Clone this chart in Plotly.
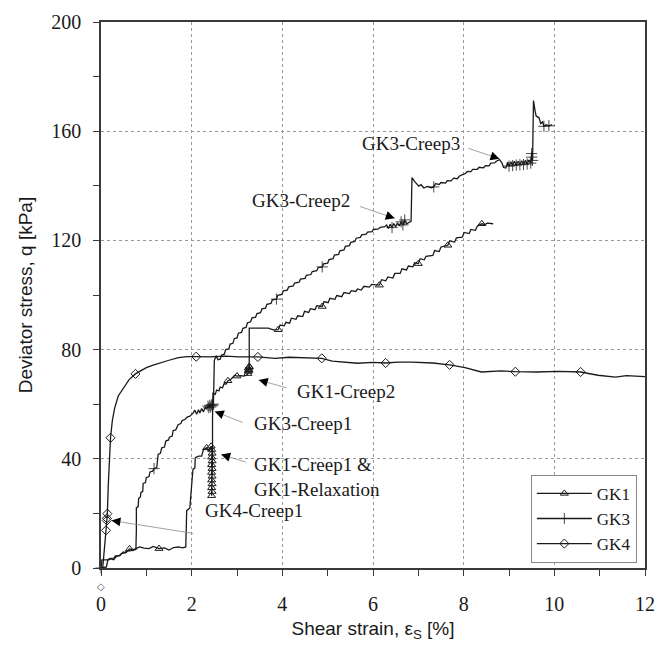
import math
import plotly.graph_objects as go

# ---- measured series: rows of [shear strain %, deviator stress kPa, marker flag] ----
GK1_points = [
    [0.00, 0.0, 0], [0.12, 0.4, 0], [0.15, 2.9, 0], [0.22, 3.3, 0], [0.28, 3.0, 0],
    [0.34, 4.3, 0], [0.42, 4.6, 0], [0.49, 5.9, 0], [0.55, 5.6, 0], [0.63, 7.0, 1],
    [0.72, 6.7, 0], [0.85, 7.7, 0], [0.95, 7.3, 0], [1.06, 7.1, 0], [1.15, 7.9, 0],
    [1.28, 7.1, 1], [1.40, 7.4, 0], [1.50, 6.6, 0], [1.60, 7.5, 0], [1.71, 7.7, 0],
    [1.80, 7.4, 0], [1.87, 7.7, 0], [1.88, 14.0, 0], [1.89, 21.0, 0], [1.96, 22.0, 0],
    [1.98, 28.0, 0], [2.01, 32.5, 0], [2.03, 36.2, 0], [2.07, 36.6, 0], [2.08, 40.4, 0],
    [2.15, 41.0, 0], [2.22, 41.0, 0], [2.26, 43.4, 0], [2.33, 44.0, 1], [2.38, 42.8, 0],
    [2.43, 44.6, 1],
    # creep 1 and relaxation
    [2.44, 43.4, 1], [2.45, 42.0, 1], [2.44, 40.6, 1], [2.45, 39.2, 1], [2.44, 37.8, 1],
    [2.45, 36.4, 1], [2.44, 35.0, 1], [2.45, 33.6, 1], [2.44, 32.2, 1], [2.45, 30.8, 1],
    [2.44, 29.4, 1], [2.45, 28.0, 1], [2.44, 26.5, 1],
    [2.46, 40.0, 0], [2.46, 55.0, 0], [2.47, 64.0, 0], [2.52, 63.6, 0], [2.55, 65.2, 0],
    [2.60, 64.9, 0], [2.63, 66.3, 0], [2.68, 66.0, 0], [2.72, 67.6, 0], [2.76, 67.3, 0],
    [2.80, 68.6, 1], [2.85, 68.9, 0], [2.90, 69.8, 0], [2.95, 70.6, 0], [3.00, 70.3, 1],
    [3.08, 70.5, 0], [3.15, 70.3, 0], [3.21, 70.6, 0],
    # creep 2
    [3.24, 71.2, 1], [3.25, 72.0, 1], [3.26, 72.6, 1], [3.25, 73.2, 1], [3.27, 73.6, 1],
    [3.26, 72.4, 1], [3.27, 73.8, 1],
    [3.27, 80.0, 0], [3.27, 87.9, 0], [3.45, 87.9, 0], [3.69, 87.9, 0], [3.80, 87.2, 0],
    [3.91, 87.3, 1], [3.95, 89.0, 0], [4.04, 88.7, 0], [4.08, 90.0, 0], [4.16, 89.7, 0],
    [4.20, 91.5, 0], [4.30, 91.1, 0], [4.34, 92.4, 0], [4.45, 92.1, 0], [4.49, 94.0, 0],
    [4.58, 93.6, 0], [4.62, 95.0, 0], [4.72, 94.6, 0], [4.76, 96.1, 0], [4.88, 95.8, 1],
    [4.92, 97.6, 0], [5.01, 97.2, 0], [5.05, 98.8, 0], [5.16, 98.4, 0], [5.20, 99.8, 0],
    [5.31, 99.4, 0], [5.36, 100.9, 0], [5.48, 100.5, 0], [5.52, 101.6, 0], [5.62, 101.3, 0],
    [5.66, 102.2, 0], [5.74, 101.8, 0], [5.80, 103.2, 0], [5.92, 102.9, 0], [5.97, 103.9, 0],
    [6.14, 103.6, 1], [6.19, 105.6, 0], [6.28, 105.2, 0], [6.33, 106.6, 0], [6.44, 106.2, 0],
    [6.48, 107.9, 0], [6.60, 107.9, 0], [6.64, 109.6, 0], [6.74, 109.2, 0], [6.78, 110.6, 0],
    [6.88, 110.3, 0], [6.92, 111.8, 0], [7.00, 111.5, 1], [7.04, 113.3, 0], [7.13, 112.9, 0],
    [7.17, 114.2, 0], [7.32, 114.5, 0], [7.36, 116.3, 0], [7.46, 115.9, 0], [7.50, 117.6, 0],
    [7.65, 118.2, 1], [7.69, 119.8, 0], [7.80, 119.4, 0], [7.84, 120.9, 0], [7.97, 121.2, 0],
    [8.01, 122.9, 0], [8.12, 122.5, 0], [8.16, 124.0, 0], [8.26, 123.7, 0], [8.30, 125.2, 0],
    [8.40, 126.1, 1], [8.47, 125.8, 0], [8.52, 126.3, 0], [8.65, 126.1, 0],
]

GK3_points = [
    [0.00, 0.0, 1], [0.02, 3.0, 0], [0.15, 3.0, 0], [0.20, 3.5, 0], [0.28, 3.6, 0],
    [0.32, 4.4, 0], [0.40, 4.5, 0], [0.45, 5.3, 0], [0.52, 5.5, 0], [0.57, 6.2, 0],
    [0.65, 6.4, 0], [0.72, 6.7, 0], [0.77, 6.8, 0], [0.78, 14.0, 0], [0.78, 22.0, 0],
    [0.82, 22.5, 0], [0.83, 25.5, 0], [0.87, 26.0, 0], [0.88, 27.7, 0], [0.92, 28.0, 0],
    [0.93, 31.0, 0], [0.98, 31.3, 0], [1.00, 33.1, 0], [1.06, 33.5, 0], [1.08, 35.2, 0],
    [1.14, 35.5, 0], [1.17, 36.4, 1], [1.23, 36.8, 0], [1.26, 41.6, 0], [1.31, 42.0, 0],
    [1.34, 44.0, 0], [1.40, 44.3, 0], [1.43, 46.5, 0], [1.49, 46.9, 0], [1.51, 47.9, 0],
    [1.57, 48.3, 0], [1.59, 50.3, 0], [1.65, 50.6, 0], [1.70, 52.5, 0], [1.76, 52.9, 0],
    [1.79, 54.0, 0], [1.85, 54.4, 0], [1.90, 55.3, 0], [1.96, 55.6, 0], [2.03, 56.7, 0],
    [2.07, 57.8, 0], [2.11, 56.3, 0], [2.15, 58.0, 0], [2.18, 56.8, 0], [2.22, 58.4, 0],
    [2.26, 57.2, 0], [2.30, 58.8, 0], [2.33, 58.3, 0],
    # creep 1
    [2.36, 59.3, 1], [2.38, 58.7, 1], [2.40, 59.6, 1], [2.42, 59.0, 1], [2.44, 59.8, 1],
    [2.46, 59.4, 1], [2.48, 60.0, 1],
    [2.49, 68.0, 0], [2.50, 76.0, 0], [2.54, 77.8, 0], [2.58, 76.3, 0], [2.63, 76.5, 0],
    [2.66, 78.0, 0], [2.72, 78.3, 0], [2.75, 80.0, 0], [2.82, 80.3, 0], [2.85, 82.0, 0],
    [2.91, 82.3, 0], [2.94, 84.0, 0], [3.00, 84.3, 0], [3.03, 86.0, 0], [3.10, 86.3, 0],
    [3.13, 87.8, 0], [3.20, 88.1, 0], [3.23, 89.8, 0], [3.30, 90.2, 0], [3.33, 91.6, 0],
    [3.41, 91.9, 0], [3.44, 93.2, 0], [3.52, 93.5, 0], [3.55, 94.9, 0], [3.63, 95.2, 0],
    [3.66, 96.6, 0], [3.75, 96.9, 0], [3.78, 98.2, 0], [3.87, 98.5, 1], [3.90, 99.9, 0],
    [3.99, 100.2, 0], [4.02, 101.5, 0], [4.11, 101.8, 0], [4.14, 103.0, 0], [4.24, 103.3, 0],
    [4.27, 104.4, 0], [4.37, 104.7, 0], [4.40, 105.8, 0], [4.50, 106.1, 0], [4.53, 107.2, 0],
    [4.63, 107.5, 0], [4.66, 108.6, 0], [4.76, 108.9, 0], [4.79, 110.0, 0], [4.88, 110.3, 1],
    [4.91, 111.4, 0], [5.00, 111.7, 0], [5.03, 113.0, 0], [5.12, 113.3, 0], [5.15, 114.6, 0],
    [5.24, 114.9, 0], [5.27, 116.2, 0], [5.36, 116.5, 0], [5.39, 117.8, 0], [5.48, 118.1, 0],
    [5.51, 119.3, 0], [5.60, 119.6, 0], [5.63, 120.8, 0], [5.72, 121.1, 0], [5.75, 122.0, 0],
    [5.85, 122.3, 0], [5.88, 123.0, 0], [5.98, 123.2, 0], [6.01, 124.0, 0], [6.12, 124.2, 0],
    [6.16, 124.8, 0], [6.26, 125.0, 0],
    # creep 2
    [6.30, 125.6, 0], [6.34, 124.4, 0], [6.38, 125.9, 0], [6.42, 124.7, 1], [6.46, 126.2, 0],
    [6.50, 125.0, 0], [6.54, 126.4, 0], [6.58, 125.3, 0], [6.62, 126.8, 1], [6.66, 125.7, 1],
    [6.70, 127.5, 1], [6.74, 126.1, 0], [6.80, 126.6, 0], [6.84, 127.0, 0],
    [6.85, 135.0, 0], [6.86, 143.0, 0], [6.92, 141.5, 0], [7.01, 139.9, 0], [7.06, 140.4, 0],
    [7.12, 139.2, 0], [7.20, 139.8, 0], [7.28, 139.3, 0], [7.34, 139.6, 1], [7.38, 140.8, 0],
    [7.46, 140.5, 0], [7.50, 141.2, 0], [7.60, 141.0, 0], [7.64, 141.9, 0], [7.72, 141.8, 0],
    [7.78, 142.8, 0], [7.86, 142.6, 0], [7.90, 143.5, 0], [7.99, 144.2, 0], [8.04, 144.5, 0],
    [8.08, 145.3, 0], [8.16, 145.2, 0], [8.20, 146.0, 0], [8.30, 146.0, 0], [8.34, 146.8, 0],
    [8.44, 146.6, 0], [8.48, 147.4, 0], [8.56, 147.3, 0], [8.60, 148.3, 0], [8.68, 148.4, 0],
    [8.72, 149.0, 0], [8.79, 149.6, 0],
    # creep 3
    [8.84, 148.5, 0], [8.88, 146.7, 0], [8.93, 146.5, 0], [8.97, 148.6, 0], [9.00, 147.2, 1],
    [9.04, 148.8, 0], [9.08, 147.4, 1], [9.12, 149.0, 0], [9.16, 147.6, 1], [9.20, 149.0, 0],
    [9.24, 147.7, 1], [9.28, 149.2, 0], [9.32, 147.8, 1], [9.36, 149.3, 0], [9.40, 148.0, 1],
    [9.44, 149.4, 0], [9.48, 148.3, 1], [9.50, 150.5, 1], [9.50, 151.8, 1], [9.52, 149.3, 1],
    [9.53, 160.0, 0], [9.54, 171.2, 0], [9.58, 167.0, 0], [9.60, 165.5, 0], [9.66, 165.0, 0],
    [9.70, 162.8, 0], [9.74, 163.4, 0], [9.77, 161.8, 1], [9.82, 162.4, 0], [9.88, 162.0, 1],
    [9.95, 162.3, 0],
]

GK4_points = [
    [0.00, -6.9, 1], [0.03, 0.0, 0], [0.08, 8.0, 0], [0.11, 13.8, 1], [0.13, 17.4, 1],
    [0.13, 18.2, 1], [0.14, 19.9, 1], [0.16, 30.0, 0], [0.19, 42.0, 0], [0.21, 47.7, 1],
    [0.25, 54.0, 0], [0.30, 58.5, 0], [0.38, 63.0, 0], [0.52, 66.8, 0], [0.62, 69.0, 0],
    [0.76, 71.1, 1], [0.88, 72.4, 0], [1.00, 73.4, 0], [1.15, 74.3, 0], [1.31, 75.0, 0],
    [1.50, 76.1, 0], [1.71, 77.1, 0], [1.90, 77.4, 0], [2.10, 77.4, 1], [2.40, 77.3, 0],
    [2.74, 77.6, 0], [3.05, 77.3, 0], [3.46, 77.3, 1], [3.84, 76.8, 0], [4.15, 77.2, 0],
    [4.47, 77.1, 0], [4.87, 76.8, 1], [5.10, 75.8, 0], [5.40, 75.4, 0], [5.66, 75.0, 0],
    [6.00, 75.3, 0], [6.28, 75.1, 1], [6.55, 75.4, 0], [6.85, 75.4, 0], [7.32, 75.1, 0],
    [7.69, 74.4, 1], [8.03, 73.4, 0], [8.39, 71.8, 0], [8.82, 72.2, 0], [9.14, 71.9, 1],
    [9.61, 71.8, 0], [10.10, 72.0, 0], [10.58, 71.8, 1], [10.96, 70.6, 0], [11.35, 69.9, 0],
    [11.59, 70.5, 0], [12.00, 70.1, 0],
]

series_names = ["GK1", "GK3", "GK4"]
series_symbols = ["triangle-up-open", "cross-thin-open", "diamond-open"]
series_marker_sizes = [7, 8, 7]
series_marker_widths = [1, 0.8, 1]
# glyph used for a marked reading that falls below the plotted stress range
below_range_glyph = {"GK1": "△", "GK3": "+", "GK4": "◇"}

# label text, label anchor (x, y), arrow tail (x, y), arrow tip (x, y)
callouts = [
    ("GK3-Creep3", (5.72, 155.4), (8.07, 153.9), (8.79, 149.9)),
    ("GK3-Creep2", (3.29, 134.8), (5.68, 132.6), (6.48, 128.1)),
    ("GK1-Creep2", (4.27, 64.6), (4.13, 65.8), (3.48, 68.9)),
    ("GK3-Creep1", (3.34, 53.1), (3.16, 53.1), (2.51, 57.3)),
    ("GK1-Creep1 &<br>GK1-Relaxation", (3.34, 33.4), (3.23, 38.6), (2.65, 41.6)),
    ("GK4-Creep1", (2.25, 21.0), (2.07, 12.6), (0.23, 17.4)),
]

x_range = [0, 12]
y_range = [0, 200]
x_ticks = [0, 2, 4, 6, 8, 10, 12]
y_ticks = [0, 40, 80, 120, 160, 200]

# ---- layout geometry ----
W, H = 666, 664
M_L, M_R, M_T, M_B = 101, 11, 17, 96
px_per_x = (W - M_L - M_R) / (x_range[1] - x_range[0])
px_per_y = (H - M_T - M_B) / (y_range[1] - y_range[0])

SERIF = "Liberation Serif, Times New Roman, serif"
SANS = "Liberation Sans Narrow, Arial Narrow, Liberation Sans, sans-serif"
INK = "#1a1a1a"

fig = go.Figure()
annotations = []

for name, pts, sym, msz, mlw in zip(series_names, [GK1_points, GK3_points, GK4_points],
                                    series_symbols, series_marker_sizes, series_marker_widths):
    xs = [p[0] for p in pts]
    ys = [p[1] for p in pts]
    fig.add_trace(go.Scatter(
        x=xs, y=ys, mode="lines", line=dict(color=INK, width=1.3),
        showlegend=False, hoverinfo="skip"))
    mx = [p[0] for p in pts if p[2]]
    my = [p[1] for p in pts if p[2]]
    fig.add_trace(go.Scatter(
        x=mx, y=my, mode="markers", cliponaxis=False,
        marker=dict(symbol=sym, size=msz, color=INK, line=dict(color=INK, width=mlw)),
        showlegend=False, hoverinfo="skip"))
    # marked readings below the axis (Plotly hides out-of-range markers)
    for p in pts:
        if p[2] and p[1] < y_range[0]:
            annotations.append(dict(
                x=p[0], xref="x", yref="y domain",
                y=(p[1] - y_range[0]) / (y_range[1] - y_range[0]),
                text=below_range_glyph[name], showarrow=False,
                xanchor="center", yanchor="middle",
                font=dict(family="DejaVu Sans", size=10, color="#555555")))
    # legend entry (line with its marker)
    fig.add_trace(go.Scatter(
        x=[None], y=[None], mode="lines+markers", name=name,
        line=dict(color=INK, width=1.3),
        marker=dict(symbol=sym, size=msz, color=INK, line=dict(color=INK, width=mlw))))

for text, (lx, ly), (tx, ty), (hx, hy) in callouts:
    annotations.append(dict(
        x=lx, y=ly, xref="x", yref="y", text=text, showarrow=False,
        xanchor="left", yanchor="middle", align="left",
        font=dict(family=SERIF, size=19, color=INK)))
    # thin grey leader line
    annotations.append(dict(
        x=hx, y=hy, ax=tx, ay=ty, xref="x", yref="y", axref="x", ayref="y",
        text="", showarrow=True, arrowhead=0, arrowwidth=0.8, arrowcolor="#8a8a8a",
        standoff=0, startstandoff=0))
    # solid black arrow head at the tip
    dxp = (tx - hx) * px_per_x
    dyp = -(ty - hy) * px_per_y
    L = math.hypot(dxp, dyp)
    annotations.append(dict(
        x=hx, y=hy, xref="x", yref="y", ax=dxp / L * 7, ay=dyp / L * 7,
        text="", showarrow=True, arrowhead=2, arrowsize=1.8, arrowwidth=1,
        arrowcolor="#000000", standoff=0))

axis_common = dict(
    showline=True, mirror=True, linecolor="#3a3a3a", linewidth=1.6,
    ticks="outside", ticklen=6, tickwidth=1.2, tickcolor="#3a3a3a",
    showgrid=True, gridcolor="#9a9a9a", gridwidth=1, griddash="dot",
    zeroline=False, tickfont=dict(family=SERIF, size=20, color=INK),
)

fig.update_layout(
    width=W, height=H,
    margin=dict(l=M_L, r=M_R, t=M_T, b=M_B),
    paper_bgcolor="white", plot_bgcolor="white",
    xaxis=dict(
        range=x_range, tickvals=x_ticks, ticklabelstandoff=11, **axis_common,
        minor=dict(ticks="outside", ticklen=6, tickwidth=1.2, tickcolor="#3a3a3a",
                   dtick=1, showgrid=False),
        title=dict(text="Shear strain, ε<sub>S</sub> [%]",
                   font=dict(family=SANS, size=19, color=INK), standoff=8),
    ),
    yaxis=dict(
        range=y_range, tickvals=y_ticks, ticklabelstandoff=8, **axis_common,
        minor=dict(ticks="outside", ticklen=6, tickwidth=1.2, tickcolor="#3a3a3a",
                   dtick=20, showgrid=False),
        title=dict(text="Deviator stress, q [kPa]",
                   font=dict(family=SANS, size=19, color=INK), standoff=14),
    ),
    legend=dict(
        x=0.985, y=0.1706, xanchor="right", yanchor="top",
        bgcolor="white", bordercolor="#8a8a8a", borderwidth=1,
        font=dict(family=SERIF, size=17, color=INK),
        itemwidth=55, tracegroupgap=0,
    ),
    annotations=annotations,
    showlegend=True,
)

fig.write_html("out.html")
